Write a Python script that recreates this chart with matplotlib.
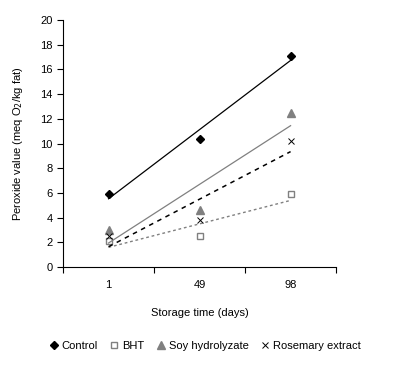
import numpy as np
import matplotlib
matplotlib.use('Agg')
import matplotlib.pyplot as plt

plt.rcParams['font.family'] = ['Liberation Sans', 'DejaVu Sans']

days = ['1', '49', '98']
control = [5.9, 10.4, 17.1]
bht = [2.1, 2.5, 5.9]
soy = [3.0, 4.6, 12.5]
rosemary = [2.5, 3.8, 10.2]

fig = plt.figure(figsize=(3.94, 3.72), dpi=100)
ax = fig.add_axes([0.16, 0.282, 0.693, 0.664])

x = np.arange(1, len(days) + 1)

series = [
    ('Control', control, dict(marker='D', color='black', ms=3.8, mfc='black', mec='black', ls='none'),
     dict(color='black', lw=0.9, ls='-')),
    ('BHT', bht, dict(marker='s', color='#808080', ms=5, mfc='white', mec='#808080', mew=1, ls='none'),
     dict(color='#808080', lw=1.0, ls=(0, (2, 2)))),
    ('Soy hydrolyzate', soy, dict(marker='^', color='#808080', ms=5.5, mfc='#808080', mec='#808080', ls='none'),
     dict(color='#808080', lw=0.9, ls='-')),
    ('Rosemary extract', rosemary, dict(marker='x', color='black', ms=4.5, mew=0.7, ls='none'),
     dict(color='black', lw=1.1, ls=(0, (3, 3)))),
]

handles = []
for name, vals, mstyle, lstyle in series:
    h, = ax.plot(x, vals, label=name, **mstyle)
    handles.append(h)
    k, b = np.polyfit(x, vals, 1)
    ax.plot(x, k * x + b, **lstyle)

ax.set_xlim(0.5, 3.5)
ax.set_ylim(0, 20)
ax.set_yticks(range(0, 21, 2))
ax.set_xticks([0.5, 1.5, 2.5, 3.5])
ax.set_xticklabels([])
ax.set_xticks(x, minor=True)
ax.set_xticklabels(days, minor=True)
ax.tick_params(axis='x', which='minor', length=0, pad=9)
ax.tick_params(axis='both', which='major', direction='out', length=4, width=0.8, labelsize=8)
ax.tick_params(axis='x', which='minor', labelsize=8)
for s in ['top', 'right']:
    ax.spines[s].set_visible(False)
for s in ['left', 'bottom']:
    ax.spines[s].set_linewidth(0.8)

ax.set_xlabel('Storage time (days)', fontsize=8, labelpad=13)
ax.set_ylabel('Peroxide value (meq O$_2$/kg fat)', fontsize=8, labelpad=11)

fig.legend(handles=handles, loc='center', bbox_to_anchor=(0.52, 0.07), ncol=4,
           frameon=False, fontsize=8, handlelength=0.8, handletextpad=0.3,
           columnspacing=1.1)

fig.savefig('out.png', dpi=100)
